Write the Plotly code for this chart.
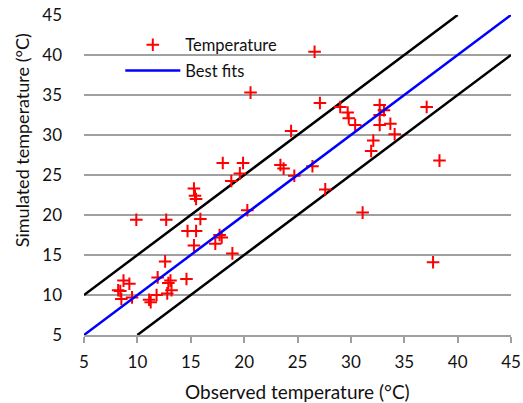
import plotly.graph_objects as go

observed = [26.6, 20.6, 27.1, 29.0, 29.7, 29.8, 30.4, 32.7, 33.1, 32.7, 32.7, 33.7, 34.1,
            32.1, 31.9, 37.1, 38.3, 24.4, 26.4, 23.4, 23.7, 24.7, 27.6, 31.1, 37.7,
            18.0, 19.9, 19.6, 18.8, 15.3, 15.4, 15.5, 9.9, 12.7, 15.9, 20.3,
            14.7, 15.5, 17.7, 17.9, 17.3, 15.3, 18.9, 12.6, 11.9, 14.6,
            13.1, 12.9, 13.2, 12.8, 11.8, 8.7, 9.25, 8.2, 8.4, 8.5, 9.5, 11.1, 11.25]
simulated = [40.4, 35.3, 34.0, 33.5, 32.8, 32.1, 31.25, 33.75, 33.1, 32.5, 31.25, 31.4, 30.1,
             29.3, 28.0, 33.5, 26.8, 30.5, 26.1, 26.25, 25.8, 24.9, 23.2, 20.3, 14.1,
             26.5, 26.5, 25.2, 24.25, 23.3, 22.4, 22.0, 19.4, 19.4, 19.5, 20.6,
             18.0, 18.0, 17.5, 17.2, 16.4, 16.2, 15.2, 14.2, 12.2, 12.0,
             11.8, 11.5, 10.6, 10.2, 10.0, 11.8, 11.4, 10.6, 10.5, 9.5, 9.7, 9.4, 9.1]

fit_x = [5, 45]
fit_y = [5, 45]
upper_x = [5, 40]
upper_y = [10, 45]
lower_x = [10, 45]
lower_y = [5, 40]

ticks = [5, 10, 15, 20, 25, 30, 35, 40, 45]
x_title = "Observed temperature (°C)"
y_title = "Simulated temperature (°C)"
font = "Lato, 'Open Sans', sans-serif"

fig = go.Figure()
fig.add_trace(go.Scatter(x=upper_x, y=upper_y, mode="lines", line=dict(color="black", width=2.5),
                         showlegend=False, hoverinfo="skip"))
fig.add_trace(go.Scatter(x=lower_x, y=lower_y, mode="lines", line=dict(color="black", width=2.5),
                         showlegend=False, hoverinfo="skip"))
fig.add_trace(go.Scatter(x=observed, y=simulated, mode="markers", name="Temperature",
                         marker=dict(symbol="cross-thin", size=9, color="red",
                                     line=dict(color="red", width=2)),
                         legend="legend"))
fig.add_trace(go.Scatter(x=fit_x, y=fit_y, mode="lines", name="Best fits",
                         line=dict(color="blue", width=2.5), legend="legend2"))

fig.update_layout(
    width=523, height=403,
    margin=dict(l=84, r=12, t=15, b=68),
    paper_bgcolor="white", plot_bgcolor="white",
    font=dict(family=font, size=17, color="#111"),
    showlegend=True,
    legend=dict(x=0.085, y=0.906, xanchor="left", yanchor="middle", bgcolor="rgba(0,0,0,0)",
                font=dict(size=16.5), itemwidth=55),
    legend2=dict(x=0.085, y=0.826, xanchor="left", yanchor="middle", bgcolor="rgba(0,0,0,0)",
                 font=dict(size=16.5), itemwidth=55),
    xaxis=dict(range=[5, 45], tickvals=ticks, showgrid=False, zeroline=False,
               showline=True, linecolor="#a0a0a0", linewidth=1.5, automargin=False,
               ticks="outside", ticklen=6, tickcolor="#a0a0a0", tickwidth=1.5,
               ticklabelstandoff=5, ticklabeloverflow="allow"),
    yaxis=dict(range=[5, 45], tickvals=ticks, showgrid=True, gridcolor="#a0a0a0", gridwidth=1.5,
               zeroline=False, showline=False, automargin=False,
               ticks="", ticklabelstandoff=21, ticklabeloverflow="allow"),
    annotations=[
        dict(text=x_title, xref="paper", yref="paper", x=0.5, y=-0.175,
             xanchor="center", yanchor="middle", showarrow=False, font=dict(size=19)),
        dict(text=y_title, xref="paper", yref="paper", x=-0.145, y=0.609, textangle=-90,
             xanchor="center", yanchor="middle", showarrow=False, font=dict(size=18)),
    ],
)
fig.write_html("out.html", config={"displayModeBar": False},
               post_script="document.body.style.margin='0';")
